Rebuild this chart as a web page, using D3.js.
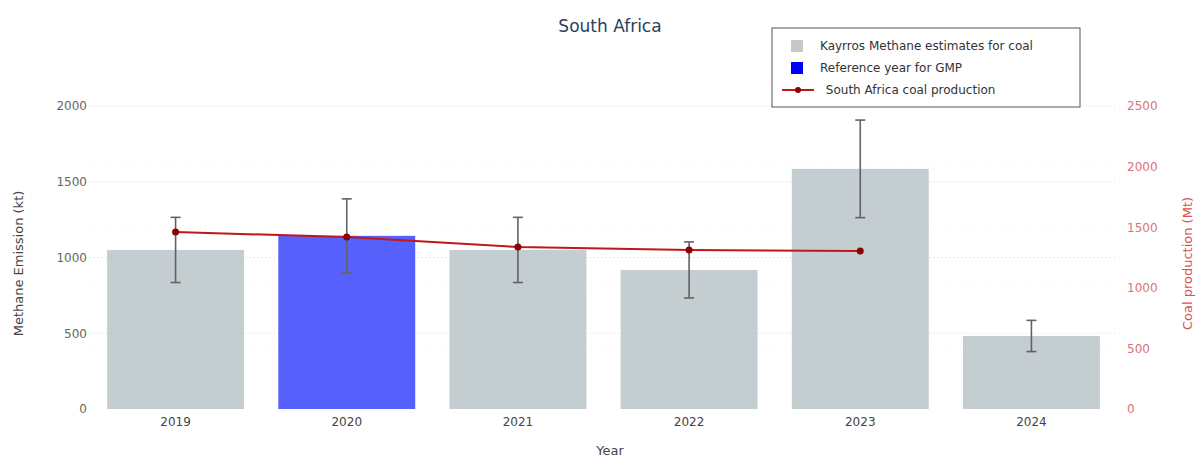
<!DOCTYPE html>
<html>
<head>
<meta charset="utf-8">
<script src="https://cdn.jsdelivr.net/npm/d3@7"></script>
<style>
  body { margin: 0; background: #fff; }
  svg { display: block; font-family: "DejaVu Sans", Verdana, sans-serif; }
</style>
</head>
<body>
<svg id="chart" width="1203" height="457"></svg>
<script>
// Methane estimates (kt) with symmetric uncertainty, plus coal production (Mt)
const years = ["2019", "2020", "2021", "2022", "2023", "2024"];
const methane = [1050, 1143, 1050, 918, 1585, 482];
const methaneErr = [215, 244, 215, 185, 322, 103];
const referenceYear = "2020";
const coalYears = ["2019", "2020", "2021", "2022", "2023"];
const coalProduction = [1460, 1419, 1337, 1312, 1304];
const leftTicks = [0, 500, 1000, 1500, 2000];
const rightTicks = [0, 500, 1000, 1500, 2000, 2500];

const svg = d3.select("#chart");
const plot = { left: 90, right: 1117, top: 106, bottom: 409 };

const x = d3.scaleBand().domain(years).range([plot.left, plot.right]).paddingInner(0.2).paddingOuter(0.1);
const yL = d3.scaleLinear().domain([0, 2000]).range([plot.bottom, plot.top]);
const yR = d3.scaleLinear().domain([0, 2500]).range([plot.bottom, plot.top]);

// grid lines
svg.append("g").selectAll("line").data(leftTicks.slice(1)).join("line")
  .attr("x1", plot.left).attr("x2", plot.right)
  .attr("y1", d => yL(d)).attr("y2", d => yL(d))
  .attr("stroke", "#d4d4d4").attr("stroke-dasharray", "1,3");
svg.append("g").selectAll("line").data(rightTicks.slice(1, -1)).join("line")
  .attr("x1", plot.left).attr("x2", plot.right)
  .attr("y1", d => yR(d)).attr("y2", d => yR(d))
  .attr("stroke", "#ececec").attr("stroke-dasharray", "1,4");

// bars
svg.append("g").selectAll("rect").data(years).join("rect")
  .attr("x", d => x(d))
  .attr("width", x.bandwidth())
  .attr("y", (d, i) => yL(methane[i]))
  .attr("height", (d, i) => yL(0) - yL(methane[i]))
  .attr("fill", d => d === referenceYear ? "#5661fb" : "#c4cdd0");

// error bars
const eb = svg.append("g").attr("stroke", "#5e6467").attr("stroke-width", 1.6);
years.forEach((yr, i) => {
  const cx = x(yr) + x.bandwidth() / 2;
  const hi = yL(methane[i] + methaneErr[i]);
  const lo = yL(methane[i] - methaneErr[i]);
  eb.append("line").attr("x1", cx).attr("x2", cx).attr("y1", hi).attr("y2", lo);
  eb.append("line").attr("x1", cx - 5).attr("x2", cx + 5).attr("y1", hi).attr("y2", hi);
  eb.append("line").attr("x1", cx - 5).attr("x2", cx + 5).attr("y1", lo).attr("y2", lo);
});

// coal production line
const cx = d => x(d) + x.bandwidth() / 2;
const line = d3.line().x((d, i) => cx(coalYears[i])).y(d => yR(d));
svg.append("path").datum(coalProduction)
  .attr("d", line).attr("fill", "none")
  .attr("stroke", "#c0161c").attr("stroke-width", 2);
svg.append("g").selectAll("circle").data(coalProduction).join("circle")
  .attr("cx", (d, i) => cx(coalYears[i])).attr("cy", d => yR(d))
  .attr("r", 3.5).attr("fill", "#8b0000");

// left axis
const axL = d3.axisLeft(yL).tickValues(leftTicks).tickFormat(d3.format("d")).tickSize(0).tickPadding(3);
const gL = svg.append("g").attr("transform", `translate(${plot.left},0)`).call(axL);
gL.select(".domain").remove();
gL.selectAll("text").attr("font-size", 12).attr("fill", "#666").attr("font-family", "DejaVu Sans, sans-serif");

// right axis
const axR = d3.axisRight(yR).tickValues(rightTicks).tickFormat(d3.format("d")).tickSize(0).tickPadding(10);
const gR = svg.append("g").attr("transform", `translate(${plot.right},0)`).call(axR);
gR.select(".domain").remove();
gR.selectAll("text").attr("font-size", 12).attr("fill", "#d9747a").attr("font-family", "DejaVu Sans, sans-serif");

// x axis
const axX = d3.axisBottom(x).tickSize(0).tickPadding(8);
const gX = svg.append("g").attr("transform", `translate(0,${plot.bottom})`).call(axX);
gX.select(".domain").remove();
gX.selectAll("text").attr("font-size", 12).attr("fill", "#444").attr("font-family", "DejaVu Sans, sans-serif");

// titles
svg.append("text").attr("x", 610).attr("y", 32).attr("text-anchor", "middle")
  .attr("font-size", 17).attr("fill", "#2a3f5f").text("South Africa");
svg.append("text").attr("x", 610).attr("y", 455).attr("text-anchor", "middle")
  .attr("font-size", 13).attr("fill", "#444").text("Year");
svg.append("text").attr("transform", `translate(23,${(plot.top + plot.bottom) / 2 + 6}) rotate(-90)`)
  .attr("text-anchor", "middle").attr("font-size", 13).attr("fill", "#444").text("Methane Emission (kt)");
svg.append("text").attr("transform", `translate(1192,${(plot.top + plot.bottom) / 2 + 6}) rotate(-90)`)
  .attr("text-anchor", "middle").attr("font-size", 13).attr("fill", "#d9534f").text("Coal production (Mt)");

// legend
const lg = svg.append("g").attr("transform", "translate(772,28)");
lg.append("rect").attr("width", 308).attr("height", 79)
  .attr("fill", "#fff").attr("stroke", "#555").attr("stroke-width", 1);
const items = [
  { label: "Kayrros Methane estimates for coal", type: "box", color: "#c8c8c8" },
  { label: "Reference year for GMP", type: "box", color: "#0000ff" },
  { label: " South Africa coal production", type: "line", color: "#c0161c" }
];
items.forEach((it, i) => {
  const yy = 18 + i * 22;
  if (it.type === "box") {
    lg.append("rect").attr("x", 19).attr("y", yy - 6).attr("width", 12).attr("height", 12).attr("fill", it.color);
  } else {
    lg.append("line").attr("x1", 10).attr("x2", 42).attr("y1", yy).attr("y2", yy)
      .attr("stroke", it.color).attr("stroke-width", 2);
    lg.append("circle").attr("cx", 26).attr("cy", yy).attr("r", 3).attr("fill", "#8b0000");
  }
  lg.append("text").attr("x", it.type === "box" ? 48 : 50).attr("y", yy + 4)
    .attr("font-size", 12).attr("fill", "#333").attr("xml:space", "preserve").text(it.label);
});
</script>
</body>
</html>
